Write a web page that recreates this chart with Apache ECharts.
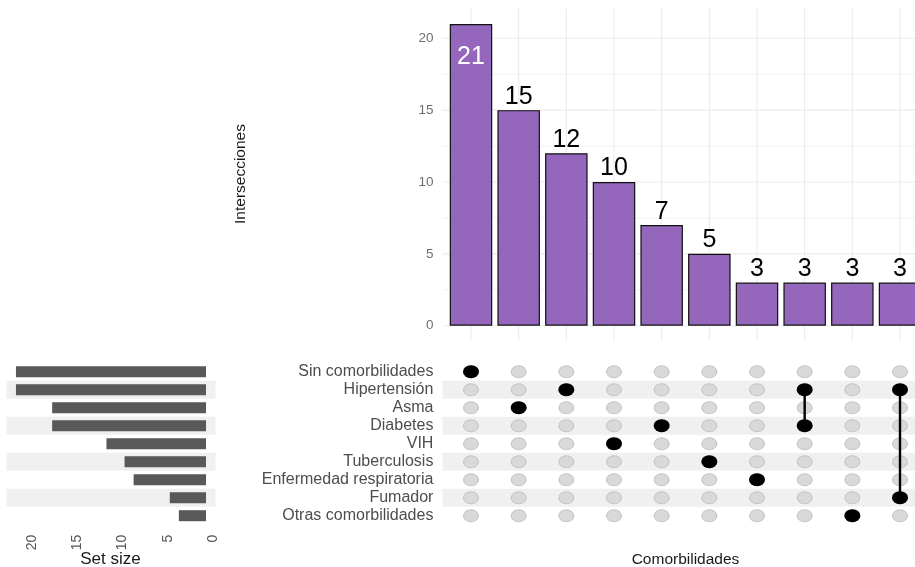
<!DOCTYPE html>
<html><head><meta charset="utf-8">
<script src="https://cdn.jsdelivr.net/npm/echarts@6/dist/echarts.min.js"></script>
<style>html,body{margin:0;padding:0;background:#fff}#c{width:915px;height:567px}</style>
</head><body><div id="c"></div>
<script>
// ---- data ----
const sets = ['Sin comorbilidades','Hipertensión','Asma','Diabetes','VIH','Tuberculosis','Enfermedad respiratoria','Fumador','Otras comorbilidades'];
const setSizes = [21,21,17,17,11,9,8,4,3];
const intersectionSizes = [21,15,12,10,7,5,3,3,3,3];
const intersectionMembers = [
  ['Sin comorbilidades'],
  ['Asma'],
  ['Hipertensión'],
  ['VIH'],
  ['Diabetes'],
  ['Tuberculosis'],
  ['Enfermedad respiratoria'],
  ['Hipertensión','Diabetes'],
  ['Otras comorbilidades'],
  ['Hipertensión','Fumador']
];
const countTicks = [0,5,10,15,20];
const countMinorTicks = [2.5,7.5,12.5,17.5];
const setSizeTicks = [0,5,10,15,20,25];

// ---- derived ----
const FONT = '"Liberation Sans", Arial, sans-serif';
const nCols = intersectionSizes.length;
const X_MIN = 0.4, X_MAX = nCols + 0.6;
const maxCount = Math.max(...intersectionSizes);
const Y_LO = -0.05 * maxCount, Y_HI = 1.05 * maxCount;
const maxSet = Math.max(...setSizes);
const S_LO = -0.05 * maxSet, S_HI = 1.05 * maxSet;

const gridColor = '#ebebeb';
const stripeColor = '#f0f0f0';

const stripeRows = sets.map((s, i) => i).filter(i => i % 2 === 1);

function lineEl(p1, p2, w, c) {
  return {type: 'line', shape: {x1: p1[0], y1: p1[1], x2: p2[0], y2: p2[1]}, style: {stroke: c, lineWidth: w}, silent: true};
}

const barData = intersectionSizes.map((v, i) => {
  const item = {value: [i + 1, v]};
  if (v === maxCount) {
    item.label = {position: 'insideTop', distance: 21, color: '#ffffff'};
  }
  return item;
});

const allCells = [];
for (let c = 0; c < nCols; c++) for (let r = 0; r < sets.length; r++) allCells.push([c + 1, r]);
const memberCells = [];
intersectionMembers.forEach((m, c) => m.forEach(s => memberCells.push([c + 1, sets.indexOf(s)])));
const connectors = intersectionMembers.map((m, c) => {
  const rows = m.map(s => sets.indexOf(s));
  return [c + 1, Math.min(...rows), Math.max(...rows), m.length];
}).filter(d => d[3] > 1);

const chart = echarts.init(document.getElementById('c'), null, {renderer: 'canvas'});
chart.setOption({
  animation: false,
  backgroundColor: '#ffffff',
  textStyle: {fontFamily: FONT},
  grid: [
    {left: 442.4, width: 486.2, top: -33.55, height: 359.25, outerBoundsMode: 'none', containLabel: false},   // intersections bars
    {left: 442.4, width: 486.2, top: 362.7, height: 162, outerBoundsMode: 'none', containLabel: false},       // matrix
    {left: -20.25, width: 226.25, top: 362.7, height: 162, outerBoundsMode: 'none', containLabel: false}      // set sizes
  ],
  xAxis: [
    {gridIndex: 0, type: 'value', min: X_MIN, max: X_MAX, show: false},
    {gridIndex: 1, type: 'value', min: X_MIN, max: X_MAX, show: false},
    {gridIndex: 2, type: 'value', min: 0, max: 25, interval: 5, inverse: true,
      axisLine: {show: false}, axisTick: {show: false}, splitLine: {show: false},
      axisLabel: {rotate: 90, verticalAlign: 'top', margin: 10, fontSize: 14, color: '#555555', fontFamily: FONT, showMaxLabel: false, hideOverlap: false}}
  ],
  yAxis: [
    {gridIndex: 0, type: 'value', min: 0, max: 25, interval: 5,
      axisLine: {show: false}, axisTick: {show: false}, splitLine: {show: false},
      axisLabel: {margin: 9, fontSize: 13.5, color: '#6e6e6e', fontFamily: FONT, showMaxLabel: false}},
    {gridIndex: 1, type: 'category', data: sets, inverse: true,
      axisLine: {show: false}, axisTick: {show: false}, splitLine: {show: false},
      axisLabel: {interval: 0, margin: 9, fontSize: 16, color: '#4d4d4d', fontFamily: FONT}},
    {gridIndex: 2, type: 'category', data: sets, inverse: true, show: false}
  ],
  graphic: [
    {type: 'text', x: 240.5, y: 174, rotation: Math.PI / 2, silent: true,
      style: {text: 'Intersecciones', fontSize: 15.5, fontFamily: FONT, fill: '#1a1a1a', align: 'center', verticalAlign: 'middle'}},
    {type: 'text', x: 685.5, y: 560, silent: true,
      style: {text: 'Comorbilidades', fontSize: 15.5, fontFamily: FONT, fill: '#1a1a1a', align: 'center', verticalAlign: 'middle'}},
    {type: 'text', x: 110.5, y: 559, silent: true,
      style: {text: 'Set size', fontSize: 17, fontFamily: FONT, fill: '#1a1a1a', align: 'center', verticalAlign: 'middle'}}
  ],
  series: [
    // top panel grid lines
    {type: 'custom', xAxisIndex: 0, yAxisIndex: 0, z: 0, silent: true,
      data: countTicks.map(v => [v, 1.1]).concat(countMinorTicks.map(v => [v, 0.7])),
      renderItem: (params, api) => lineEl(api.coord([X_MIN, api.value(0)]), api.coord([X_MAX, api.value(0)]), api.value(1), gridColor)},
    {type: 'custom', xAxisIndex: 0, yAxisIndex: 0, z: 0, silent: true,
      data: intersectionSizes.map((v, i) => [i + 1, 0]),
      renderItem: (params, api) => lineEl(api.coord([api.value(0), Y_LO]), api.coord([api.value(0), Y_HI]), 1.1, gridColor)},
    // intersection bars
    {type: 'bar', xAxisIndex: 0, yAxisIndex: 0, z: 2, barWidth: 42.5,
      data: barData,
      itemStyle: {color: '#9467bd', borderColor: '#111111', borderWidth: 1.2},
      label: {show: true, position: 'top', distance: 1, fontSize: 25, color: '#000000', fontFamily: FONT}},
    // matrix stripes
    {type: 'custom', xAxisIndex: 1, yAxisIndex: 1, z: 0, silent: true,
      data: stripeRows.map(r => [X_MIN, r]),
      renderItem: (params, api) => {
        const a = api.coord([X_MIN, api.value(1)]);
        const b = api.coord([X_MAX, api.value(1)]);
        const h = api.size([0, 1])[1];
        return {type: 'rect', shape: {x: a[0], y: a[1] - h / 2, width: b[0] - a[0], height: h}, style: {fill: stripeColor}};
      }},
    // grey dots
    {type: 'scatter', xAxisIndex: 1, yAxisIndex: 1, z: 2, silent: true,
      data: allCells, symbolSize: [15, 12],
      itemStyle: {color: '#d9d9d9', borderColor: '#c4c4c4', borderWidth: 1, opacity: 1}},
    // connectors
    {type: 'custom', xAxisIndex: 1, yAxisIndex: 1, z: 3, silent: true,
      data: connectors,
      renderItem: (params, api) => lineEl(api.coord([api.value(0), api.value(1)]), api.coord([api.value(0), api.value(2)]), 2.4, '#000000')},
    // black dots
    {type: 'scatter', xAxisIndex: 1, yAxisIndex: 1, z: 4, silent: true,
      data: memberCells, symbolSize: [16, 13],
      itemStyle: {color: '#000000', opacity: 1}},
    // set size stripes
    {type: 'custom', xAxisIndex: 2, yAxisIndex: 2, z: 0, silent: true,
      data: stripeRows.map(r => [0, r]),
      renderItem: (params, api) => {
        const a = api.coord([S_HI, api.value(1)]);
        const b = api.coord([S_LO, api.value(1)]);
        const h = api.size([0, 1])[1];
        return {type: 'rect', shape: {x: Math.min(a[0], b[0]), y: a[1] - h / 2, width: Math.abs(b[0] - a[0]), height: h}, style: {fill: stripeColor}};
      }},
    // set size bars
    {type: 'bar', xAxisIndex: 2, yAxisIndex: 2, z: 2, barWidth: 11,
      data: setSizes, itemStyle: {color: '#595959'}}
  ]
});
</script>
</body></html>
